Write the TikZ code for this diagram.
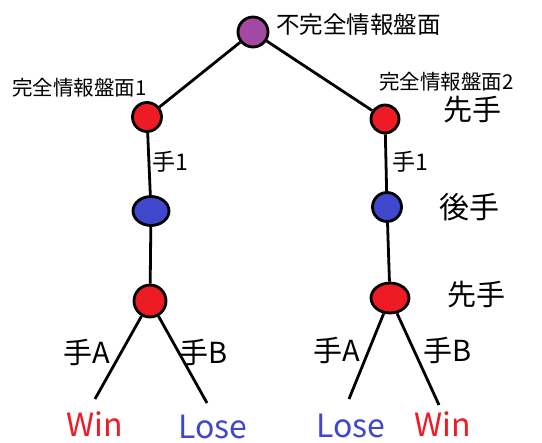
\documentclass[tikz,border=0pt]{standalone}
\usepackage{fontspec}
\setmainfont{Noto Sans CJK JP}
\usetikzlibrary{shapes.geometric}
\definecolor{cpurple}{HTML}{A349A4}
\definecolor{cred}{HTML}{ED1C24}
\definecolor{cblue}{HTML}{3F48CC}
\begin{document}
\begin{tikzpicture}[x=1pt,y=-1pt,
  vtx/.style={ellipse,draw=black,line width=2.8pt,inner sep=0pt},
  edge/.style={line width=2.8pt,black},
  lbl/.style={inner sep=0pt,anchor=center},
  fs/.style={font=\fontsize{#1}{#1}\selectfont}]
\useasboundingbox (0,0) rectangle (542,443);
% vertices
\node[vtx,fill=cpurple,minimum width=30,minimum height=30] (root) at (253,32) {};
\node[vtx,fill=cred,minimum width=29,minimum height=29] (L1) at (147,117) {};
\node[vtx,fill=cred,minimum width=28,minimum height=28] (R1) at (385,119) {};
\node[vtx,fill=cblue,minimum width=36,minimum height=29] (L2) at (151,211) {};
\node[vtx,fill=cblue,minimum width=29,minimum height=29] (R2) at (387,207) {};
\node[vtx,fill=cred,minimum width=32,minimum height=32] (L3) at (150,301) {};
\node[vtx,fill=cred,minimum width=38,minimum height=30] (R3) at (390,298) {};
% leaf ends
\coordinate (LA) at (95,399);
\coordinate (LB) at (207,403);
\coordinate (RA) at (349,399);
\coordinate (RB) at (439,405);
% edges
\draw[edge] (root) -- (L1);
\draw[edge] (root) -- (R1);
\draw[edge] (L1) -- (L2);
\draw[edge] (R1) -- (R2);
\draw[edge] (L2) -- (L3);
\draw[edge] (R2) -- (R3);
\draw[edge] (L3) -- (LA);
\draw[edge] (L3) -- (LB);
\draw[edge] (R3) -- (RA);
\draw[edge] (R3) -- (RB);
% labels
\node[lbl,fs=23.5,anchor=west] (t0) at (276,25) {不完全情報盤面};
\node[lbl,fs=20.5,anchor=west] (t1) at (12,88) {完全情報盤面1};
\node[lbl,fs=20.5,anchor=west] (t2) at (379,82) {完全情報盤面2};
\node[lbl,fs=29] (s1) at (472,110) {先手};
\node[lbl,fs=30] (g1) at (469,207) {後手};
\node[lbl,fs=29] (s2) at (476,295) {先手};
\node[lbl,fs=23] (m1) at (170,162) {手1};
\node[lbl,fs=23] (m2) at (410,162) {手1};
\node[lbl,fs=29] (aL) at (87,352) {手A};
\node[lbl,fs=29] (bL) at (204,352) {手B};
\node[lbl,fs=29] (aR) at (337,350) {手A};
\node[lbl,fs=29] (bR) at (448,350) {手B};
\node[lbl,fs=32,text=cred] (w1) at (95,424) {Win};
\node[lbl,fs=32,text=cblue] (l1) at (213,427) {Lose};
\node[lbl,fs=32,text=cblue] (l2) at (351,426) {Lose};
\node[lbl,fs=32,text=cred] (w2) at (443,424) {Win};
\end{tikzpicture}
\end{document}
